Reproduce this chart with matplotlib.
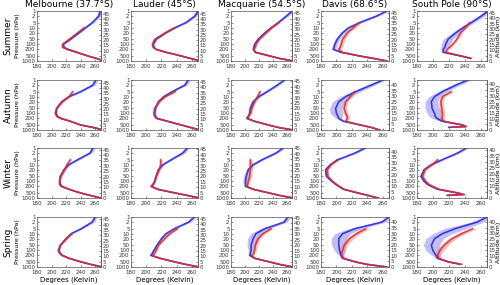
import numpy as np
import matplotlib.pyplot as plt
from matplotlib.ticker import FixedLocator, FixedFormatter, NullLocator

nan = np.nan

stations = ['Melbourne (37.7°S)', 'Lauder (45°S)', 'Macquarie (54.5°S)', 'Davis (68.6°S)', 'South Pole (90°S)']
seasons = ['Summer', 'Autumn', 'Winter', 'Spring']

# pressure levels (hPa); South Pole starts at its surface pressure
p_lev = [1000, 700, 500, 300, 200, 150, 100, 50, 20, 10, 5, 2, 1]
p_sp = [690, 620, 500, 300, 200, 150, 100, 50, 20, 10, 5, 2, 1]
p_ticks = [1, 2, 5, 10, 20, 50, 100, 200, 500, 1000]
t_ticks = [180, 200, 220, 240, 260]
z_ticks = [0, 5, 10, 15, 20, 25, 30, 35, 40, 45]

# scale height (km) used for the altitude axis of each panel (rows = seasons)
scale_h = [[6.9, 6.9, 6.85, 6.75, 6.8],
           [6.9, 6.8, 6.7, 6.45, 6.35],
           [6.75, 6.7, 6.55, 6.25, 6.05],
           [6.85, 6.8, 6.65, 6.5, 6.45]]

# shared spreads for the quiet mid-latitude profiles
sd_small_b = [1, 1, 1, 1, 1.5, 1.5, 1.5, 1.5, 2, 2, 2.5, 3, 3]
sd_small_r = [1, 1, 1, 1, 1.5, 1.5, 1.5, 1.5, 2, 2, 2, 2, 2]

# Melbourne  (b = blue mean, r = red mean, K)
mel_su_b = [272, 262, 250, 235, 223, 217, 216, 226, 238, 247, 256, 265, 267]
mel_su_r = [272, 262, 250, 234, 221, 215, 215, 224, 236, 245, nan, nan, nan]
mel_au_b = [271, 257, 240, 226, 213, 208, 206, 207, 214, 224, 240, 257, 261]
mel_au_r = [271, 257, 240, 226, 212, 207, 205, 207, 215, 224, 229, nan, nan]
mel_wi_b = [268, 253, 240, 224, 214, 212, 211, 212, 217, 224, 236, 253, 257]
mel_wi_r = [268, 253, 240, 224, 213, 211, 211, 213, 218, 221, 226, nan, nan]
mel_sp_b = [270, 254, 241, 224, 215, 212, 210, 212, 220, 227, 241, 256, 260]
mel_sp_r = [270, 254, 241, 224, 214, 211, 209, 212, 220, 228, nan, nan, nan]

# Lauder
lau_su_b = [272, 258, 246, 226, 213, 210, 209, 213, 226, 238, 252, 264, 268]
lau_su_r = [272, 258, 246, 226, 213, 209, 208, 211, 225, 237, nan, nan, nan]
lau_au_b = [271, 258, 246, 228, 214, 212, 211, 212, 216, 223, 234, 251, 255]
lau_au_r = [271, 258, 246, 228, 213, 211, 210, 211, 217, 225, 238, nan, nan]
lau_wi_b = [270, 254, 238, 215, 207, 209, 211, 213, 216, 222, 233, 248, 254]
lau_wi_r = [270, 254, 238, 215, 206, 209, 211, 213, 217, 219, 219, nan, nan]
lau_sp_b = [270, 252, 238, 218, 206, 208, 210, 214, 220, 226, 237, 256, 263]
lau_sp_r = [270, 252, 238, 218, 208, 211, 213, 216, 224, 231, 241, nan, nan]

# Macquarie
mac_su_b = [270, 250, 236, 215, 212, 213, 214, 219, 229, 238, 248, 260, 268]
mac_su_r = [270, 250, 236, 215, 213, 215, 216, 221, 231, 239, 249, nan, nan]
mac_au_b = [270, 248, 234, 214, 203, 205, 207, 208, 212, 220, 232, 247, 257]
mac_au_r = [270, 248, 234, 214, 203, 205, 208, 210, 214, 218, 222, nan, nan]
mac_au_bs = [1, 1, 1, 1, 2, 2, 2.5, 3, 3, 3, 3, 3, 3]
mac_wi_b = [270, 250, 235, 212, 201, 201, 201, 202, 205, 212, 225, 245, 255]
mac_wi_r = [270, 250, 235, 212, 203, 204, 205, 207, 208, 208, 208, nan, nan]
mac_wi_bs = [1, 1, 1, 1, 2, 3, 4, 4, 3, 3, 3, 3, 3]
mac_wi_rs = [1, 1, 1, 1, 2, 2, 2.5, 3, 3, 3, 3, 3, 3]
mac_sp_b = [270, 250, 236, 214, 207, 208, 209, 209, 212, 216, 229, 257, 262]
mac_sp_r = [270, 250, 236, 214, 210, 213, 214, 215, 219, 226, 238, nan, nan]
mac_sp_bs = [1, 1, 1, 1, 2, 3, 4, 6, 8, 8, 7, 4, 4]
mac_sp_rs = [1, 1, 1, 1, 2, 2, 3, 3, 3, 3, 3, 3, 3]

# Davis
dav_su_b = [265, 248, 230, 206, 196, 197, 198, 201, 208, 216, 230, 252, 265]
dav_su_r = [265, 248, 230, 207, 203, 205, 206, 208, 214, 222, 229, nan, nan]
dav_su_bs = [1, 1, 1, 2, 3, 3, 3, 3, 3, 3, 3, 3, 3]
dav_su_rs = [1, 1, 1, 2, 3, 3, 3, 3, 3, 3, 3, 3, 3]
dav_au_b = [256, 245, 231, 209, 203, 202, 200, 199, 203, 212, 225, 245, 260]
dav_au_r = [256, 245, 231, 212, 214, 214, 212, 210, 212, 218, 223, nan, nan]
dav_au_bs = [1, 1, 1, 2, 4, 6, 8, 8, 8, 7, 6, 5, 4]
dav_au_rs = [1, 1, 1, 2, 3, 3, 3, 3, 3, 3, 3, 3, 3]
dav_wi_b = [254, 241, 228, 209, 203, 199, 194, 187, 186, 192, 202, 224, 237]
dav_wi_r = [254, 241, 228, 210, 204, 200, 195, 189, 188, 193, 201, nan, nan]
dav_sp_b = [265, 240, 225, 208, 206, 205, 204, 203, 203, 208, 224, 259, 268]
dav_sp_r = [265, 240, 225, 209, 207, 207, 208, 210, 217, 226, 238, nan, nan]
dav_sp_bs = [1, 1, 1, 2, 3, 5, 7, 9, 10, 10, 9, 5, 4]
dav_sp_rs = [1, 1, 1, 2, 3, 3, 4, 4, 5, 5, 5, 5, 5]

# South Pole (on p_sp)
sp_su_b = [247, 243, 235, 213, 213, 215, 216, 219, 229, 238, 248, 261, 269]
sp_su_r = [248, 244, 236, 216, 218, 221, 225, 230, 235, 241, 246, nan, nan]
sp_su_bs = [1, 1, 1.5, 2, 3, 5, 6, 6, 5, 4, 4, 4, 4]
sp_su_rs = [1, 1, 1.5, 2, 2, 2, 2, 2, 2, 2, 2, 2, 2]
sp_au_b = [220, 241, 237, 212, 205, 203, 202, 199, 198, 202, 212, 229, 244]
sp_au_r = [222, 242, 238, 214, 211, 212, 212, 211, 210, 212, 223, nan, nan]
sp_au_bs = [2, 2, 2, 3, 6, 8, 9, 9, 8, 7, 6, 5, 5]
sp_au_rs = [2, 2, 2, 2, 3, 3, 3, 3, 3, 3, 3, 3, 3]
sp_wi_b = [218, 238, 231, 206, 198, 193, 189, 185, 189, 198, 212, 231, 242]
sp_wi_r = [220, 240, 232, 208, 200, 195, 191, 187, 190, 199, 206, nan, nan]
sp_sp_b = [234, 230, 220, 206, 204, 202, 200, 198, 202, 212, 228, 256, 268]
sp_sp_r = [236, 231, 220, 207, 206, 207, 209, 214, 224, 236, 250, nan, nan]
sp_sp_bs = [2, 2, 2, 3, 5, 7, 9, 10, 11, 12, 14, 8, 6]
sp_sp_rs = [2, 2, 2, 3, 4, 4, 5, 5, 5, 5, 5, 5, 5]

blue = [[mel_su_b, lau_su_b, mac_su_b, dav_su_b, sp_su_b],
        [mel_au_b, lau_au_b, mac_au_b, dav_au_b, sp_au_b],
        [mel_wi_b, lau_wi_b, mac_wi_b, dav_wi_b, sp_wi_b],
        [mel_sp_b, lau_sp_b, mac_sp_b, dav_sp_b, sp_sp_b]]
red = [[mel_su_r, lau_su_r, mac_su_r, dav_su_r, sp_su_r],
       [mel_au_r, lau_au_r, mac_au_r, dav_au_r, sp_au_r],
       [mel_wi_r, lau_wi_r, mac_wi_r, dav_wi_r, sp_wi_r],
       [mel_sp_r, lau_sp_r, mac_sp_r, dav_sp_r, sp_sp_r]]
blue_sd = [[sd_small_b, sd_small_b, sd_small_b, dav_su_bs, sp_su_bs],
           [sd_small_b, sd_small_b, mac_au_bs, dav_au_bs, sp_au_bs],
           [sd_small_b, sd_small_b, mac_wi_bs, sd_small_b, sd_small_b],
           [sd_small_b, sd_small_b, mac_sp_bs, dav_sp_bs, sp_sp_bs]]
red_sd = [[sd_small_r, sd_small_r, sd_small_r, dav_su_rs, sp_su_rs],
          [sd_small_r, sd_small_r, sd_small_r, dav_au_rs, sp_au_rs],
          [sd_small_r, sd_small_r, mac_wi_rs, sd_small_r, sd_small_r],
          [sd_small_r, sd_small_r, mac_sp_rs, dav_sp_rs, sp_sp_rs]]

W, H = 500, 285
fig = plt.figure(figsize=(W / 100, H / 100), dpi=100)
lefts = [37, 131, 231, 321, 417]
rights = [101, 198, 292, 389, 487]
tops = [11, 80, 148, 217]
hgt = 50
fs = 4

for i in range(4):
    for j in range(5):
        ax = fig.add_axes([lefts[j] / W, 1 - (tops[i] + hgt) / H,
                           (rights[j] - lefts[j]) / W, hgt / H])
        p = np.array(p_sp if j == 4 else p_lev, float)
        tb = np.array(blue[i][j], float)
        tr = np.array(red[i][j], float)
        sb = np.array(blue_sd[i][j], float)
        sr = np.array(red_sd[i][j], float)
        ax.fill_betweenx(p, tb - sb, tb + sb, color='#8c8ce6', alpha=0.55, lw=0)
        ax.fill_betweenx(p, tr - sr, tr + sr, color='#e68c8c', alpha=0.55, lw=0)
        ax.plot(tb, p, color='#2a2ae0', lw=1.2, alpha=0.9)
        ax.plot(tr, p, color='#e02a2a', lw=1.2, alpha=0.85)
        ax.set_yscale('log')
        ax.set_ylim(1000, 1)
        ax.set_xlim(180, 268)
        ax.yaxis.set_major_locator(FixedLocator(p_ticks))
        ax.yaxis.set_major_formatter(FixedFormatter([str(v) for v in p_ticks]))
        ax.yaxis.set_minor_locator(NullLocator())
        ax.set_xticks(t_ticks)
        ax.tick_params(labelsize=fs, length=1.5, width=0.4, pad=1, direction='in', colors='#333333')
        ax.tick_params(axis='x', pad=2.5)
        for s in ax.spines.values():
            s.set_linewidth(0.5)
            s.set_color('#555555')

        h = scale_h[i][j]
        sec = ax.secondary_yaxis('right', functions=(
            lambda pp, h=h: h * np.log(1000 / np.clip(pp, 1e-3, None)),
            lambda z, h=h: 1000 * np.exp(-np.asarray(z) / h)))
        z_top = h * np.log(1000)
        zt = [z for z in z_ticks if z <= z_top]
        sec.yaxis.set_major_locator(FixedLocator(zt))
        sec.yaxis.set_major_formatter(FixedFormatter([str(z) for z in zt]))
        sec.yaxis.set_minor_locator(NullLocator())
        sec.tick_params(labelsize=fs, length=1.5, width=0.4, pad=1, direction='in', colors='#333333')
        sec.spines['right'].set_linewidth(0.5)
        sec.spines['right'].set_color('#555555')

        if i == 0:
            ax.set_title(stations[j], fontsize=6.5, pad=3)
        if j == 0:
            ax.set_ylabel('Pressure (hPa)', fontsize=4.5, labelpad=1)
        if j == 4:
            sec.set_ylabel('Altitude (km)', fontsize=4.5, labelpad=0.5)
        if i == 3:
            ax.set_xlabel('Degrees (Kelvin)', fontsize=5, labelpad=1)

    fig.text(8 / W, 1 - (tops[i] + hgt / 2) / H, seasons[i], rotation=90,
             ha='center', va='center', fontsize=6.5)

fig.savefig('out.png', dpi=100)
